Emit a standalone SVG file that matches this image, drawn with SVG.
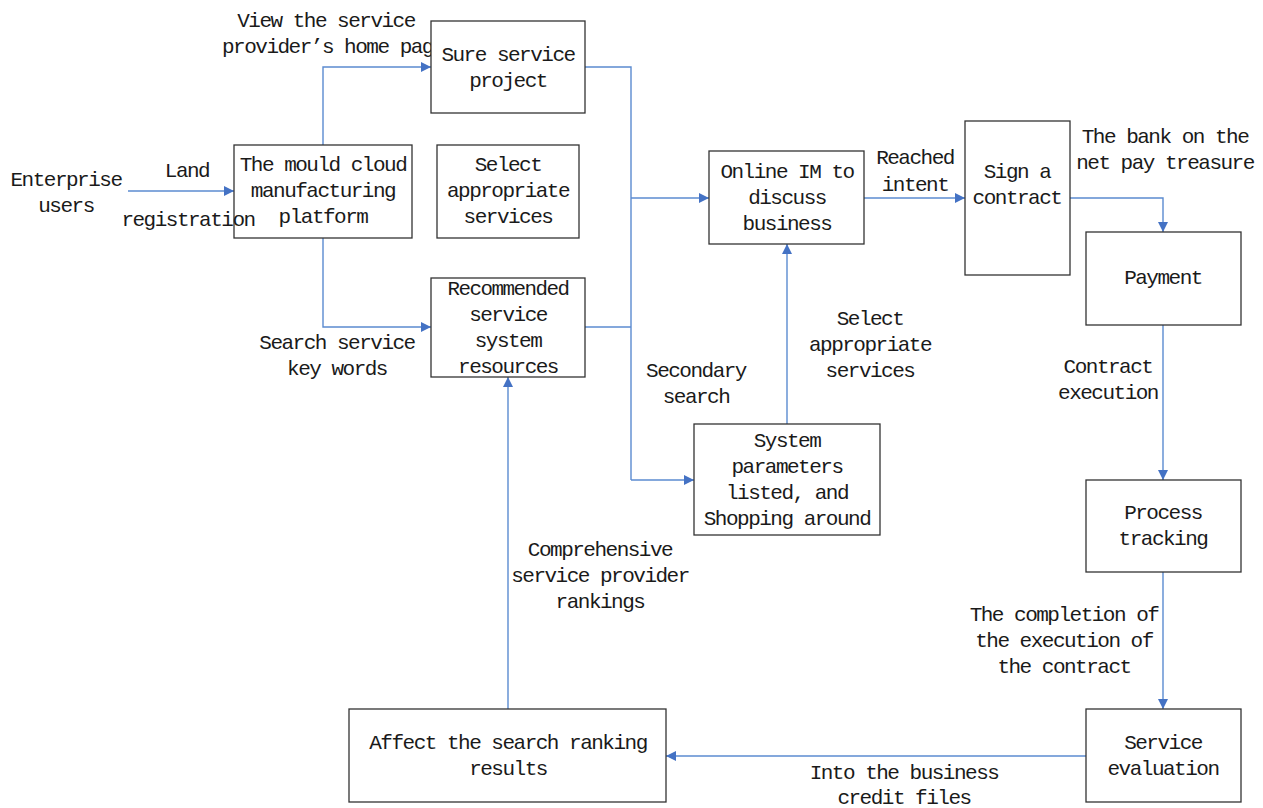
<svg xmlns="http://www.w3.org/2000/svg" width="1263" height="808" viewBox="0 0 1263 808">
  <style>
    .box { fill: #ffffff; stroke: #333333; stroke-width: 1.3; }
    .wire { fill: none; stroke: #5b8bd0; stroke-width: 1.4; }
    .arrow { fill: none; stroke: #5b8bd0; stroke-width: 1.4; marker-end: url(#head); }
    text { font-family: "Liberation Mono", "DejaVu Sans Mono", monospace; font-size: 21px; letter-spacing: -1.5px; fill: #1a1a1a; text-anchor: middle; }
    .left { text-anchor: start; }
  </style>
  <defs>
    <marker id="head" viewBox="0 0 10 10" refX="10" refY="5" markerWidth="10" markerHeight="10" markerUnits="userSpaceOnUse" orient="auto">
      <path d="M0,0 L10,5 L0,10 z" fill="#4472c4"/>
    </marker>
  </defs>

  <rect width="1263" height="808" fill="#ffffff"/>

  <!-- free-standing labels -->
  <g id="labels">
    <text x="66" y="186">Enterprise</text>
    <text x="66" y="212">users</text>
    <text x="187" y="177">Land</text>
    <text x="326" y="27">View the service</text>
    <text class="left" x="222" y="53">provider’s home pag</text>
    <text x="337" y="349">Search service</text>
    <text x="337" y="375">key words</text>
    <text x="696" y="377">Secondary</text>
    <text x="696" y="403">search</text>
    <text x="870" y="325">Select</text>
    <text x="870" y="351">appropriate</text>
    <text x="870" y="377">services</text>
    <text x="915" y="164">Reached</text>
    <text x="915" y="191">intent</text>
    <text x="1165" y="143">The bank on the</text>
    <text x="1165" y="169">net pay treasure</text>
    <text x="1108" y="373">Contract</text>
    <text x="1108" y="399">execution</text>
    <text x="1064" y="621">The completion of</text>
    <text x="1064" y="647">the execution of</text>
    <text x="1064" y="673">the contract</text>
    <text x="600" y="556">Comprehensive</text>
    <text x="600" y="582">service provider</text>
    <text x="600" y="608">rankings</text>
    <text x="904" y="779">Into the business</text>
    <text x="904" y="804">credit files</text>
  </g>

  <!-- connectors -->
  <g id="connectors">
    <line class="arrow" x1="128" y1="191" x2="234" y2="191"/>
    <polyline class="arrow" points="323,145 323,67 431,67"/>
    <polyline class="arrow" points="323,238 323,327 431,327"/>
    <polyline class="wire" points="585,67 631,67 631,480"/>
    <line class="wire" x1="585" y1="327" x2="631" y2="327"/>
    <line class="arrow" x1="631" y1="198" x2="709" y2="198"/>
    <line class="arrow" x1="631" y1="480" x2="694" y2="480"/>
    <line class="arrow" x1="787" y1="424" x2="787" y2="244"/>
    <line class="arrow" x1="864" y1="198" x2="965" y2="198"/>
    <polyline class="arrow" points="1070,198 1163,198 1163,232"/>
    <line class="arrow" x1="1163" y1="325" x2="1163" y2="480"/>
    <line class="arrow" x1="1163" y1="572" x2="1163" y2="709"/>
    <line class="arrow" x1="1086" y1="756" x2="666" y2="756"/>
    <line class="arrow" x1="508" y1="709" x2="508" y2="377"/>
  </g>

  <g id="platform">
    <rect class="box" x="234" y="145" width="178" height="93"/>
    <text x="323" y="171">The mould cloud</text>
    <text x="323" y="197">manufacturing</text>
    <text x="323" y="223">platform</text>
  </g>
  <!-- this label runs across the platform border, so it sits above the box -->
  <text x="188" y="226">registration</text>

  <g id="sure-service-project">
    <rect class="box" x="431" y="21" width="154" height="92"/>
    <text x="508" y="61">Sure service</text>
    <text x="508" y="87">project</text>
  </g>

  <g id="select-services">
    <rect class="box" x="437" y="145" width="142" height="93"/>
    <text x="508" y="171">Select</text>
    <text x="508" y="197">appropriate</text>
    <text x="508" y="223">services</text>
  </g>

  <g id="recommended">
    <rect class="box" x="431" y="278" width="154" height="99"/>
    <text x="508" y="295" textLength="121" lengthAdjust="spacingAndGlyphs">Recommended</text>
    <text x="508" y="321">service</text>
    <text x="508" y="347">system</text>
    <text x="508" y="373">resources</text>
  </g>

  <g id="online-im">
    <rect class="box" x="709" y="151" width="155" height="93"/>
    <text x="787" y="178">Online IM to</text>
    <text x="787" y="204">discuss</text>
    <text x="787" y="230">business</text>
  </g>

  <g id="sign-contract">
    <rect class="box" x="965" y="121" width="105" height="154"/>
    <text x="1017" y="178">Sign a</text>
    <text x="1017" y="204">contract</text>
  </g>

  <g id="payment">
    <rect class="box" x="1086" y="232" width="155" height="93"/>
    <text x="1163" y="284">Payment</text>
  </g>

  <g id="system-parameters">
    <rect class="box" x="694" y="424" width="186" height="111"/>
    <text x="787" y="447">System</text>
    <text x="787" y="473">parameters</text>
    <text x="787" y="499">listed, and</text>
    <text x="787" y="525">Shopping around</text>
  </g>

  <g id="process-tracking">
    <rect class="box" x="1086" y="480" width="155" height="92"/>
    <text x="1163" y="519">Process</text>
    <text x="1163" y="545">tracking</text>
  </g>

  <g id="service-evaluation">
    <rect class="box" x="1086" y="709" width="155" height="93"/>
    <text x="1163" y="749">Service</text>
    <text x="1163" y="775">evaluation</text>
  </g>

  <g id="affect-ranking">
    <rect class="box" x="349" y="709" width="317" height="93"/>
    <text x="508" y="749">Affect the search ranking</text>
    <text x="508" y="775">results</text>
  </g>
</svg>
